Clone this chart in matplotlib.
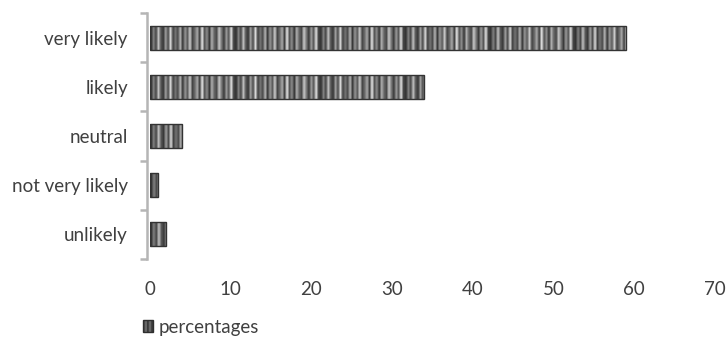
import matplotlib.pyplot as plt
from matplotlib.patches import Patch
import numpy as np

categorias = ['unlikely', 'not very likely', 'neutral', 'likely', 'very likely']
porcentajes = [2, 1, 4, 34, 59]
ticks_x = [0, 10, 20, 30, 40, 50, 60, 70]

plt.rcParams['font.family'] = ['Lato', 'DejaVu Sans']
plt.rcParams['hatch.linewidth'] = 1.0
plt.rcParams['hatch.color'] = '#2e2e2e'

TEXTO = '#404040'

fig = plt.figure(figsize=(7.26, 3.38), dpi=100)
ax = fig.add_axes([150 / 726, 1 - 259 / 338, 565 / 726, 246 / 338])

y = np.arange(len(categorias))
barras = ax.barh(y, porcentajes, height=0.49, color='none', edgecolor='#333333',
                 linewidth=1.0, zorder=3)

# relleno de rayas verticales en tonos de gris (tipo textura de Excel)
tonos = np.array([0.20, 0.50, 0.28, 0.75, 0.35, 0.22, 0.62, 0.30, 0.85, 0.26,
                  0.45, 0.30, 0.70, 0.22, 0.58, 0.36, 0.80, 0.27, 0.42, 0.66,
                  0.24, 0.90, 0.33, 0.55, 0.21, 0.68, 0.40, 0.29, 0.78, 0.48,
                  0.23, 0.60, 0.34, 0.88, 0.27])
ancho_raya = 0.3
for b in barras:
    x0, y0 = b.get_x(), b.get_y()
    w, h = b.get_width(), b.get_height()
    n = max(int(np.ceil(w / ancho_raya)), 1)
    rayas = np.resize(tonos, n).reshape(1, n)
    img = ax.imshow(rayas, cmap='gray', vmin=0, vmax=1, aspect='auto',
                    extent=(x0, x0 + n * ancho_raya, y0, y0 + h),
                    interpolation='bilinear', zorder=2)
    img.set_clip_path(b)

ax.set_xlim(0, 70)
ax.set_ylim(-0.5, len(categorias) - 0.5)
ax.set_xticks(ticks_x)
ax.set_yticks(y)
ax.set_yticklabels(categorias)
ax.set_yticks(np.arange(-0.5, len(categorias)), minor=True)

for lado in ['top', 'right', 'bottom']:
    ax.spines[lado].set_visible(False)
ax.spines['left'].set_color('#b5b5b5')
ax.spines['left'].set_linewidth(1.8)
ax.spines['left'].set_position(('outward', 2))

ax.tick_params(axis='x', length=0, pad=16, labelsize=13.5, labelcolor=TEXTO)
ax.tick_params(axis='y', which='major', length=0, pad=14, labelsize=13.5, labelcolor=TEXTO)
ax.tick_params(axis='y', which='minor', length=5, width=1.8, color='#b5b5b5')

leyenda = [Patch(facecolor='#666666', edgecolor='#2e2e2e', hatch='||||', label='percentages')]
fig.legend(handles=leyenda, loc='center left', bbox_to_anchor=(143 / 726, 1 - 327 / 338),
           frameon=False, fontsize=13.5, handlelength=0.55, handleheight=0.55,
           handletextpad=0.3, borderpad=0, borderaxespad=0, labelcolor=TEXTO)

fig.savefig('out.png', dpi=100)
